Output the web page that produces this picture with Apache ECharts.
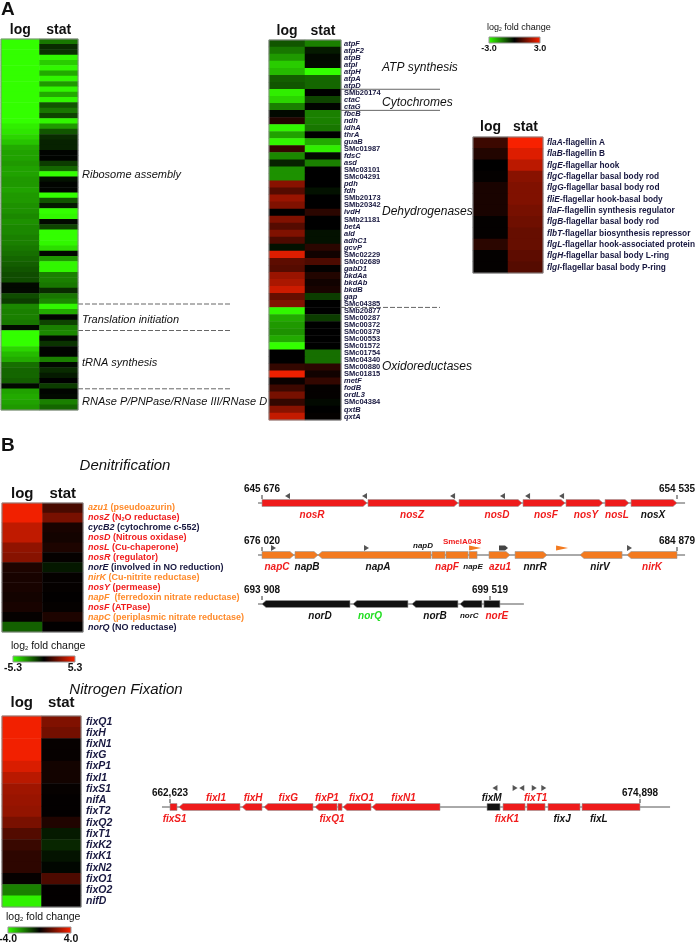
<!DOCTYPE html>
<html>
<head>
<meta charset="utf-8">
<script src="https://cdn.jsdelivr.net/npm/echarts@6/dist/echarts.min.js"></script>
</head>
<body style="margin:0">
<div id="container" style="width:696px;height:945px"></div>
<script>
var heatCols = ['log', 'stat'];

// ---- panel A, translation machinery (rows unlabeled in the figure)
var riboGroups = [['Ribosome assembly', 50], ['Translation initiation', 5], ['tRNA synthesis', 11], ['RNAse P/PNPase/RNase III/RNase D', 4]];
var riboLog = [-3, -3, -3, -3, -3, -3, -3, -3, -3, -3, -3, -3, -3, -3, -3, -3, -2.8, -2.7, -2.5, -2.3,
  -2.0, -1.9, -1.9, -1.8, -1.9, -1.9, -1.8, -1.8, -1.9, -1.8, -1.8, -1.7, -1.7, -1.6, -1.7, -1.6, -1.6, -1.5, -1.5,
  -1.4, -1.3, -1.2, -1.1, -1.0, -0.9, -0.9, -0.1, -0.1, -0.9, -0.7,
  -1.6, -1.5, -1.5, -1.4, -0.1,
  -3.0, -3.0, -3.0, -2.5, -2.2, -2.0, -1.3, -1.2, -1.2, -1.1, -0.1,
  -1.9, -2.0, -1.9, -1.8];
var riboStat = [-1.4, -0.5, -0.6, -2.9, -2.4, -2.9, -2.0, -2.9, -1.8, -2.9, -2.0, -2.9, -1.0, -1.4, -0.8, -2.9, -1.8, -1.0, -0.5, -0.4,
  -0.4, -0.05, -0.05, -0.7, -1.2, -3.0, -0.2, -0.05, -0.05, -3.0,
  -1.0, -0.3, -3.0, -2.9, -0.1, -0.8, -3.0, -3.0, -2.9, -2.6, -0.1, -1.8, -2.9, -2.9, -1.5, -1.5, -1.4, -0.5, -1.4, -1.6,
  -2.9, -2.0, -0.05, -0.8, -1.5,
  -1.6, -0.1, -0.6, -0.05, -0.05, -1.5, -0.1, -0.5, -0.3, 0, -0.7,
  -0.05, -0.1, -1.5, -1.2];

// ---- panel A, energy metabolism
var redoxGroups = [['ATP synthesis', 7], ['Cytochromes', 3], ['Dehydrogenases', 28], ['Oxidoreductases', 16]];
var redoxGenes = ['atpF', 'atpF2', 'atpB', 'atpI', 'atpH', 'atpA', 'atpD',
  'SMb20174', 'ctaC', 'ctaG',
  'fbcB', 'ndh', 'idhA', 'thrA', 'guaB', 'SMc01987', 'fdsC', 'asd', 'SMc03101', 'SMc04291', 'pdh', 'fdh', 'SMb20173', 'SMb20342',
  'ivdH', 'SMb21181', 'betA', 'ald', 'adhC1', 'gcvP', 'SMc02229', 'SMc02689', 'gabD1', 'bkdAa', 'bkdAb', 'bkdB', 'gap', 'SMc04385',
  'SMb20877', 'SMc00287', 'SMc00372', 'SMc00379', 'SMc00553', 'SMc01572', 'SMc01754', 'SMc04340', 'SMc00880', 'SMc01815',
  'metF', 'fodB', 'ordL3', 'SMc04384', 'qxtB', 'qxtA'];
var redoxLog = [-1.0, -1.4, -1.8, -2.4, -2.2, -1.1, -1.0,
  -2.8, -2.5, -1.5,
  -0.1, 0.4, -2.9, -1.9, -2.9, 0.6, -1.6, -0.4, -1.7, -1.7, 1.6, 1.0, 1.8, 1.5,
  0.0, 1.5, 1.0, 1.5, 0.9, -0.2, 2.6, 1.1, 1.0, 1.8, 2.0, 2.4, 1.2, 1.5,
  -2.9, -2.0, -1.8, -1.7, -2.0, -3.0, 0.0, 0.0, 0.6, 2.8,
  0.1, 0.7, 1.4, 0.6, 1.6, 2.3];
var redoxStat = [-1.5, -0.3, -0.1, -0.1, -3.0, -1.2, -1.2,
  0.0, -0.8, -0.05,
  -1.5, -1.5, -1.4, 0.0, -2.0, -2.8, -0.1, -1.5, 0.0, 0.0, 0.0, -0.2, 0.0, 0.0,
  0.5, 0.0, 0.0, -0.2, -0.2, 0.5, 0.2, 0.9, 0.05, 0.4, 0.2, 0.3, -0.7, 0.0,
  0.0, -0.7, 0.0, 0.0, 0.0, 0.0, -1.3, -1.3, 0.5, 0.2,
  0.6, 0.05, 0.05, -0.1, 0.0, 0.05];

// ---- panel A, flagella
var flaGenes = ['flaA', 'flaB', 'flgE', 'flgC', 'flgG', 'fliE', 'flaF', 'flgB', 'flbT', 'flgL', 'flgH', 'flgI'];
var flaDesc = ['flagellin A', 'flagellin B', 'flagellar hook', 'flagellar basal body rod', 'flagellar basal body rod',
  'flagellar hook-basal body', 'flagellin synthesis regulator', 'flagellar basal body rod', 'flagellar biosynthesis repressor',
  'flagellar hook-associated protein', 'flagellar basal body L-ring', 'flagellar basal body P-ring'];
var flaLog = [0.7, 0.4, 0.0, 0.05, 0.3, 0.3, 0.3, 0.05, 0.05, 0.5, 0.05, 0.05];
var flaStat = [2.9, 2.6, 2.2, 1.6, 1.5, 1.5, 1.4, 1.3, 1.2, 1.2, 1.1, 1.0];

// ---- panel B, denitrification (o = orange, r = red, k = dark label in the figure)
var denitGenes = ['azu1', 'nosZ', 'cycB2', 'nosD', 'nosL', 'nosR', 'norE', 'nirK', 'nosY', 'napF', 'nosF', 'napC', 'norQ'];
var denitDesc = ['(pseudoazurin)', '(N2O reductase)', '(cytochrome c-552)', '(Nitrous oxidase)', '(Cu-chaperone)', '(regulator)',
  '(involved in NO reduction)', '(Cu-nitrite reductase)', '(permease)', ' (ferredoxin nitrate reductase)', '(ATPase)',
  '(periplasmic nitrate reductase)', '(NO reductase)'];
var denitClass = ['o', 'r', 'k', 'r', 'r', 'r', 'k', 'o', 'r', 'o', 'r', 'o', 'k'];
var denitLog = [5.0, 5.0, 4.0, 4.0, 3.0, 2.8, 0.6, 0.5, 0.5, 0.4, 0.5, 0.1, -2.0];
var denitStat = [1.5, 2.5, 0.5, 0.4, 0.6, 0.1, -0.5, 0.1, 0.1, 0.05, 0.1, 0.6, 0.05];

// ---- panel B, nitrogen fixation
var fixGenes = ['fixQ1', 'fixH', 'fixN1', 'fixG', 'fixP1', 'fixI1', 'fixS1', 'nifA', 'fixT2', 'fixQ2', 'fixT1', 'fixK2', 'fixK1', 'fixN2', 'fixO1', 'fixO2', 'nifD'];
var fixLog = [3.8, 3.8, 3.8, 3.8, 3.4, 2.9, 2.5, 2.4, 2.3, 1.9, 1.3, 0.9, 0.7, 0.7, 0.1, -2.0, -3.8];
var fixStat = [2.0, 1.8, 0.1, 0.1, 0.3, 0.3, 0.1, 0.05, 0.05, 0.5, -0.4, -0.6, -0.3, -0.1, 1.2, 0.05, 0.05];

var scaleA = [-3.0, 3.0], scaleDenit = [-5.3, 5.3], scaleFix = [-4.0, 4.0];

// ---- gene neighbourhoods, positions in bp from the left coordinate
// genes: [name, start, end, strand]; labels: [text, pos, side, colour class]; marks: [pos, strand, kind]
var nosCluster = {
  coords: ['645 676', '654 535'], span: 8859, line: [-85, 9031], fill: '#ee1b1b', markDy: -7,
  genes: [['nosR', 0, 2242, 1], ['nosZ', 2263, 4185, 1], ['nosD', 4206, 5551, 1], ['nosF', 5572, 6469, 1],
    ['nosY', 6490, 7280, 1], ['nosL', 7323, 7835, 1], ['nosX', 7878, 8859, 1]],
  labels: [['nosR', 1068, 1, 'r'], ['nosZ', 3203, 1, 'r'], ['nosD', 5017, 1, 'r'], ['nosF', 6063, 1, 'r'],
    ['nosY', 6917, 1, 'r'], ['nosL', 7579, 1, 'r'], ['nosX', 8348, 1, 'k']],
  marks: [[555, -1, 'g'], [2199, -1, 'g'], [4078, -1, 'g'], [5145, -1, 'g'], [5679, -1, 'g'], [6405, -1, 'g']]
};
var napCluster = {
  coords: ['676 020', '684 879'], span: 8859, line: [-85, 9031], fill: '#f37a1f', markDy: -7,
  genes: [['napC', 0, 683, 1], ['napB', 705, 1196, 1], ['napA', 1196, 3608, -1], ['napD', 3630, 3907, 0], ['napF', 3928, 4398, 0],
    ['napE', 4420, 4591, 0], ['azu1', 4846, 5295, 1], ['nnrR', 5402, 6085, 1], ['nirV', 6789, 7686, -1], ['nirK', 7793, 8859, -1]],
  labels: [['napC', 320, 1, 'r'], ['napB', 961, 1, 'k'], ['napA', 2477, 1, 'k'], ['napD', 3437, -1, 'ks'], ['SmelA043', 4270, -2, 'rs'],
    ['napF', 3950, 1, 'r'], ['napE', 4505, 1, 'ks'], ['azu1', 5081, 1, 'r'], ['nnrR', 5829, 1, 'k'], ['nirV', 7216, 1, 'k'], ['nirK', 8327, 1, 'r']],
  marks: [[235, 1, 'g'], [2220, 1, 'g'], [4548, -1, 'o'], [5145, 1, 'p'], [6405, -1, 'o'], [7835, 1, 'g']]
};
var norCluster = {
  coords: ['693 908', '699 519'], span: 5611, line: [-98, 6445], fill: '#111111', markDy: -7,
  genes: [['norD', 0, 2165, -1], ['norQ', 2239, 3592, -1], ['norB', 3690, 4822, -1], ['norC', 4871, 5412, -1], ['norE', 5461, 5855, 0]],
  labels: [['norD', 1427, 1, 'k'], ['norQ', 2657, 1, 'g'], ['norB', 4256, 1, 'k'], ['norC', 5100, 1, 'ks'], ['norE', 5780, 1, 'r']],
  marks: []
};
var fixCluster = {
  coords: ['662,623', '674,898'], span: 12275, line: [-209, 13060], fill: '#ee1b1b', markDy: -19,
  genes: [['fixS1', 0, 183, 0], ['fixI1', 235, 1828, -1], ['fixH', 1881, 2403, -1], ['fixG', 2455, 3735, -1], ['fixP1', 3787, 4362, -1],
    ['fixQ1', 4388, 4493, 0], ['fixO1', 4519, 5250, -1], ['fixN1', 5276, 7052, -1], ['fixM', 8280, 8620, 0],
    ['fixK1', 8698, 9273, 0], ['fixT1', 9325, 9795, 0], ['fixJ', 9873, 10709, 0], ['fixL', 10762, 12275, 0]],
  labels: [['fixS1', 120, 1, 'r'], ['fixI1', 1200, -1, 'r'], ['fixH', 2170, -1, 'r'], ['fixG', 3090, -1, 'r'], ['fixP1', 4100, -1, 'r'],
    ['fixQ1', 4230, 1, 'r'], ['fixO1', 5000, -1, 'r'], ['fixN1', 6100, -1, 'r'], ['fixM', 8400, -1, 'k'], ['fixT1', 9550, -1, 'r'],
    ['fixK1', 8800, 1, 'r'], ['fixJ', 10240, 1, 'k'], ['fixL', 11200, 1, 'k']],
  marks: [[8500, -1, 'g'], [9000, 1, 'g'], [9200, -1, 'g'], [9500, 1, 'g'], [9750, 1, 'g']]
};
var blackGenes = ['fixM'];

var FONT = '"Liberation Sans", Arial, sans-serif';
var NARROW = '"Liberation Sans Narrow", "Liberation Sans", Arial, sans-serif';
var NAVY = '#17173f';
var GREEN = '#33ff00', RED = '#ff2200';
var labelColors = { r: '#f01c1c', k: '#111111', g: '#22dd22', o: '#ff8a2a' };

var heatGrids = [
  { left: 1, top: 39, width: 77, height: 371, head: 14, gap: 2 },
  { left: 269, top: 40, width: 72, height: 380, head: 14, gap: 2 },
  { left: 473, top: 137, width: 70, height: 136, head: 14, gap: 3 },
  { left: 2, top: 503, width: 81, height: 129, head: 15, gap: 2 },
  { left: 2, top: 716, width: 79, height: 191, head: 15, gap: 6 }
];
var mapGrids = [
  { left: 262, top: 493, width: 415, height: 20 },
  { left: 262, top: 545, width: 415, height: 20 },
  { left: 262, top: 594, width: 228, height: 20 },
  { left: 170, top: 797, width: 470, height: 20 }
];

function heatData(a, b) {
  var d = [];
  for (var i = 0; i < a.length; i++) {
    d.push([0, i, a[i]]);
    d.push([1, i, b[i]]);
  }
  return d;
}

var dom = document.getElementById('container');
var chart = echarts.init(dom);

var xAxes = [], yAxes = [], grids = [], series = [];

heatGrids.forEach(function (g, i) {
  grids.push({ left: g.left, top: g.top, width: g.width, height: g.height, containLabel: false, outerBoundsMode: 'none' });
  xAxes.push({
    gridIndex: i, type: 'category', data: heatCols, position: 'top',
    axisLine: { show: false }, axisTick: { show: false }, splitLine: { show: false }, axisLabel: { show: false }
  });
});

var riboNames = riboLog.map(function (v, i) { return 'r' + i; });
yAxes.push({ gridIndex: 0, type: 'category', data: riboNames, inverse: true, show: false });
yAxes.push({
  gridIndex: 1, type: 'category', data: redoxGenes, inverse: true, position: 'right',
  axisLine: { show: false }, axisTick: { show: false },
  axisLabel: {
    interval: 0, margin: 3, fontSize: 7.5, fontWeight: 'bold', color: NAVY, fontFamily: FONT,
    formatter: function (v) { return /^SM/.test(v) ? '{n|' + v + '}' : '{i|' + v + '}'; },
    rich: {
      i: { fontStyle: 'italic', fontWeight: 'bold', fontSize: 7.5, color: NAVY, fontFamily: FONT },
      n: { fontWeight: 'bold', fontSize: 7.5, color: NAVY, fontFamily: FONT }
    }
  }
});
yAxes.push({
  gridIndex: 2, type: 'category', data: flaGenes, inverse: true, position: 'right',
  axisLine: { show: false }, axisTick: { show: false },
  axisLabel: {
    interval: 0, margin: 4, fontSize: 8.3, color: NAVY, fontFamily: NARROW,
    formatter: function (v, idx) { return '{i|' + v + '}{n|-' + flaDesc[idx] + '}'; },
    rich: {
      i: { fontStyle: 'italic', fontWeight: 'bold', fontSize: 8.3, color: NAVY, fontFamily: NARROW },
      n: { fontWeight: 'bold', fontSize: 8.3, color: NAVY, fontFamily: NARROW }
    }
  }
});
var denitRich = {};
['o', 'r', 'k'].forEach(function (c) {
  var col = c === 'k' ? NAVY : labelColors[c];
  denitRich['g' + c] = { fontStyle: 'italic', fontWeight: 'bold', fontSize: 9, color: col, fontFamily: NARROW };
  denitRich['d' + c] = { fontWeight: 'bold', fontSize: 9, color: col, fontFamily: NARROW };
  denitRich['s' + c] = { fontWeight: 'bold', fontSize: 5.5, color: col, fontFamily: NARROW, verticalAlign: 'bottom', padding: [4, 0, 0, 0] };
});
yAxes.push({
  gridIndex: 3, type: 'category', data: denitGenes, inverse: true, position: 'right',
  axisLine: { show: false }, axisTick: { show: false },
  axisLabel: {
    interval: 0, margin: 5, fontSize: 9, color: NAVY, fontFamily: NARROW,
    formatter: function (v, idx) {
      var c = denitClass[idx];
      var d = denitDesc[idx];
      var parts = d.split('N2O');
      var txt = '{d' + c + '| ' + parts[0] + '}';
      if (parts.length > 1) txt = '{d' + c + '| ' + parts[0] + 'N}{s' + c + '|2}{d' + c + '|O' + parts[1] + '}';
      return '{g' + c + '|' + v + '}' + txt;
    },
    rich: denitRich
  }
});
yAxes.push({
  gridIndex: 4, type: 'category', data: fixGenes, inverse: true, position: 'right',
  axisLine: { show: false }, axisTick: { show: false },
  axisLabel: { interval: 0, margin: 5, fontSize: 10.5, fontStyle: 'italic', fontWeight: 'bold', color: NAVY, fontFamily: FONT }
});

series.push({ type: 'heatmap', xAxisIndex: 0, yAxisIndex: 0, data: heatData(riboLog, riboStat), silent: true });
series.push({ type: 'heatmap', xAxisIndex: 1, yAxisIndex: 1, data: heatData(redoxLog, redoxStat), silent: true });
series.push({ type: 'heatmap', xAxisIndex: 2, yAxisIndex: 2, data: heatData(flaLog, flaStat), silent: true });
series.push({ type: 'heatmap', xAxisIndex: 3, yAxisIndex: 3, data: heatData(denitLog, denitStat), silent: true });
series.push({ type: 'heatmap', xAxisIndex: 4, yAxisIndex: 4, data: heatData(fixLog, fixStat), silent: true });

// gene maps
function clusterSeries(gi, c) {
  var out = [];
  var base = { type: 'custom', xAxisIndex: gi, yAxisIndex: gi, silent: true, clip: false, animation: false };
  out.push(Object.assign({}, base, {
    data: [[c.line[0], c.line[1]]],
    renderItem: function (p, api) {
      var a = api.coord([api.value(0), 0]), b = api.coord([api.value(1), 0]);
      return { type: 'line', shape: { x1: a[0], y1: a[1], x2: b[0], y2: b[1] }, style: { stroke: '#555', lineWidth: 1 } };
    }
  }));
  out.push(Object.assign({}, base, {
    data: [[0, 0], [c.span, 0]],
    renderItem: function (p, api) {
      var a = api.coord([api.value(0), 0]);
      return {
        type: 'group', children: [
          { type: 'line', shape: { x1: a[0], y1: a[1] - 8, x2: a[0], y2: a[1] - 4 }, style: { stroke: '#333', lineWidth: 1 } },
          { type: 'text', style: { text: c.coords[p.dataIndex], x: a[0], y: a[1] - 14, align: 'center', verticalAlign: 'middle',
            font: 'bold 10px ' + FONT, fill: '#111' } }
        ]
      };
    }
  }));
  out.push(Object.assign({}, base, {
    data: c.genes.map(function (g) { return [g[1], g[2]]; }),
    renderItem: function (p, api) {
      var g = c.genes[p.dataIndex];
      var s = api.coord([api.value(0), 0]), e = api.coord([api.value(1), 0]);
      var x0 = s[0], x1 = e[0], y = s[1], h = 7;
      var hl = Math.min(4, (x1 - x0) / 2);
      var pts;
      if (g[3] > 0) pts = [[x0, y - h / 2], [x1 - hl, y - h / 2], [x1, y], [x1 - hl, y + h / 2], [x0, y + h / 2]];
      else if (g[3] < 0) pts = [[x0 + hl, y - h / 2], [x1, y - h / 2], [x1, y + h / 2], [x0 + hl, y + h / 2], [x0, y]];
      else pts = [[x0, y - h / 2], [x1, y - h / 2], [x1, y + h / 2], [x0, y + h / 2]];
      var fill = blackGenes.indexOf(g[0]) >= 0 ? '#111' : c.fill;
      return { type: 'polygon', shape: { points: pts }, style: { fill: fill, stroke: '#999', lineWidth: 0.6 } };
    }
  }));
  out.push(Object.assign({}, base, {
    data: c.labels.map(function (l) { return [l[1], 0]; }),
    renderItem: function (p, api) {
      var l = c.labels[p.dataIndex];
      var a = api.coord([api.value(0), 0]);
      var small = l[3].length > 1;
      var col = labelColors[l[3].charAt(0)];
      var dy = l[2] === 1 ? 12 : (l[2] === -1 ? -9 : -13);
      var font = (l[0] === 'SmelA043' ? 'bold ' : 'italic bold ') + (small ? '8px ' : '10px ') + FONT;
      return { type: 'text', style: { text: l[0], x: a[0], y: a[1] + dy, align: 'center', verticalAlign: 'middle', font: font, fill: col } };
    }
  }));
  if (c.marks.length) {
    out.push(Object.assign({}, base, {
      data: c.marks.map(function (m) { return [m[0], 0]; }),
      renderItem: function (p, api) {
        var m = c.marks[p.dataIndex];
        var a = api.coord([api.value(0), 0]);
        var x = a[0], y = a[1] + c.markDy, d = m[1];
        if (m[2] === 'o') {
          return { type: 'polygon', shape: { points: [[x - 6 * d, y], [x + 6 * d, y - 2.5], [x + 6 * d, y + 2.5]] }, style: { fill: '#f37a1f' } };
        }
        if (m[2] === 'p') {
          return { type: 'polygon', shape: { points: [[x - 4, y - 2.5], [x + 2, y - 2.5], [x + 5, y], [x + 2, y + 2.5], [x - 4, y + 2.5]] }, style: { fill: '#444' } };
        }
        return { type: 'polygon', shape: { points: [[x + 3 * d, y], [x - 2 * d, y - 3], [x - 2 * d, y + 3]] }, style: { fill: '#555' } };
      }
    }));
  }
  return out;
}

[nosCluster, napCluster, norCluster, fixCluster].forEach(function (c, k) {
  var gi = heatGrids.length + k;
  var g = mapGrids[k];
  grids.push({ left: g.left, top: g.top, width: g.width, height: g.height, outerBoundsMode: 'none' });
  xAxes.push({ gridIndex: gi, type: 'value', min: 0, max: c.span, show: false });
  yAxes.push({ gridIndex: gi, type: 'value', min: -1, max: 1, show: false });
  series = series.concat(clusterSeries(gi, c));
});

function heatVM(range, idx) {
  return { show: false, type: 'continuous', min: range[0], max: range[1], dimension: 2, seriesIndex: idx,
    inRange: { color: [GREEN, '#000000', RED] } };
}

// colour keys and titles
function legendKey(x, y, w, h, range, fs) {
  var bar = new echarts.graphic.LinearGradient(0, 0, 1, 0, [
    { offset: 0, color: GREEN }, { offset: 0.5, color: '#000' }, { offset: 1, color: RED }]);
  return [
    { type: 'text', left: x - 2, top: y - fs - 5, style: { text: '{a|log}{s|2}{a| fold change}', font: fs + 'px ' + FONT,
      rich: { a: { fontSize: fs, fontFamily: FONT, fill: '#111' }, s: { fontSize: fs * 0.55, fontFamily: FONT, fill: '#111', padding: [fs * 0.5, 0, 0, 0] } } } },
    { type: 'rect', shape: { x: x, y: y, width: w, height: h }, style: { fill: bar, stroke: '#999', lineWidth: 0.6 } },
    { type: 'text', x: x, y: y + h + 1, style: { text: range[0].toFixed(1), align: 'center', verticalAlign: 'top', font: 'bold ' + fs + 'px ' + FONT, fill: '#111' } },
    { type: 'text', x: x + w, y: y + h + 1, style: { text: range[1].toFixed(1), align: 'center', verticalAlign: 'top', font: 'bold ' + fs + 'px ' + FONT, fill: '#111' } }
  ];
}

var graphics = [
  { type: 'text', left: 1, top: 0, style: { text: 'A', font: 'bold 19px ' + FONT, fill: '#111' } },
  { type: 'text', left: 1, top: 436, style: { text: 'B', font: 'bold 19px ' + FONT, fill: '#111' } },
  { type: 'text', x: 125, y: 466, style: { text: 'Denitrification', align: 'center', verticalAlign: 'middle', font: 'italic 15px ' + FONT, fill: '#111' } },
  { type: 'text', x: 126, y: 690, style: { text: 'Nitrogen Fixation', align: 'center', verticalAlign: 'middle', font: 'italic 15px ' + FONT, fill: '#111' } }
].concat(legendKey(489, 37, 51, 6, scaleA, 9))
 .concat(legendKey(13, 656, 62, 6, scaleDenit, 10.5))
 .concat(legendKey(8, 927, 63, 6, scaleFix, 10.5));

heatGrids.forEach(function (g) {
  graphics.push({ type: 'rect', z: 50, shape: { x: g.left, y: g.top, width: g.width, height: g.height }, style: { fill: null, stroke: '#888', lineWidth: 1 } });
});

var option = {
  animation: false,
  backgroundColor: '#fff',
  grid: grids,
  xAxis: xAxes,
  yAxis: yAxes,
  visualMap: [heatVM(scaleA, [0, 1, 2]), heatVM(scaleDenit, [3]), heatVM(scaleFix, [4])],
  series: series,
  graphic: graphics
};
chart.setOption(option);

// column headers placed from the category x axes
var extra = [];
heatGrids.forEach(function (g, gi) {
  heatCols.forEach(function (col, ci) {
    var x = chart.convertToPixel({ gridIndex: gi }, [ci, 0])[0];
    extra.push({ type: 'text', x: x, y: g.top - g.gap, style: { text: col, align: 'center', verticalAlign: 'bottom',
      font: 'bold ' + g.head + 'px ' + FONT, fill: '#111' } });
  });
});

// section separators and labels placed from the category axes
function sectionMarks(gi, groups, x0, x1, styles, fs, labelX) {
  var out = [];
  var c0 = chart.convertToPixel({ gridIndex: gi }, [0, 0])[1];
  var c1 = chart.convertToPixel({ gridIndex: gi }, [0, 1])[1];
  var band = c1 - c0;
  var start = 0;
  groups.forEach(function (grp, k) {
    var top = c0 - band / 2 + start * band;
    var bottom = top + grp[1] * band;
    out.push({ type: 'text', x: labelX, y: (top + bottom) / 2 + 3, style: { text: grp[0], verticalAlign: 'middle', font: 'italic ' + fs + 'px ' + FONT, fill: '#111' } });
    if (k < groups.length - 1) {
      out.push({ type: 'line', shape: { x1: x0, y1: bottom, x2: x1, y2: bottom },
        style: { stroke: '#666', lineWidth: 1, lineDash: styles[k] === 'dashed' ? [5, 2] : null } });
    }
    start += grp[1];
  });
  return out;
}
extra = extra.concat(sectionMarks(0, riboGroups, 78, 232, ['dashed', 'dashed', 'dashed'], 11, 82))
  .concat(sectionMarks(1, redoxGroups, 341, 440, ['solid', 'solid', 'dashed'], 12, 382));
chart.setOption({ graphic: graphics.concat(extra) });

window.addEventListener('resize', function () { chart.resize(); });
</script>
</body>
</html>
